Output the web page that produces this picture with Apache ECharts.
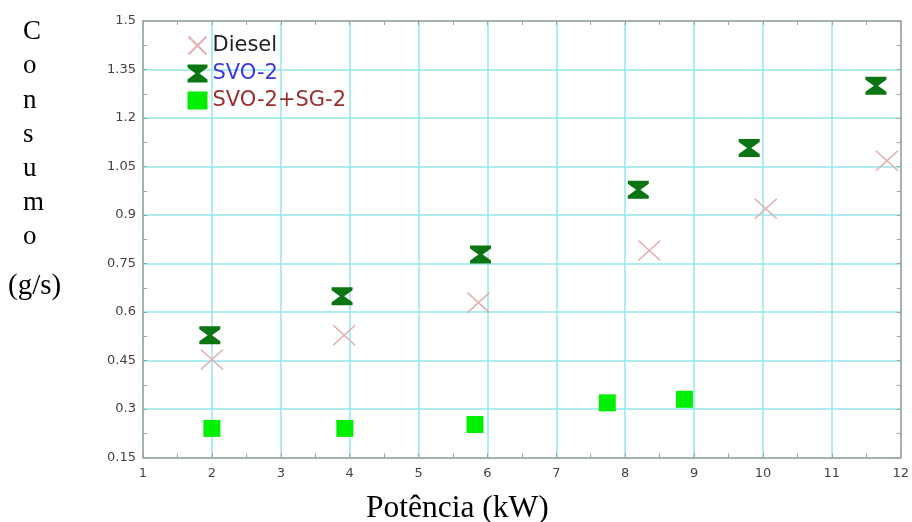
<!DOCTYPE html>
<html>
<head>
<meta charset="utf-8">
<script src="https://cdn.jsdelivr.net/npm/echarts@6/dist/echarts.min.js"></script>
<style>
  html, body { margin: 0; padding: 0; background: #fff; }
  #chart { width: 912px; height: 522px; }
</style>
</head>
<body>
<div id="chart"></div>
<script>
// Fuel consumption vs. power for three fuels
const seriesNames = ['Diesel', 'SVO-2', 'SVO-2+SG-2'];

const dieselPower = [2.0, 3.92, 5.87, 8.35, 10.04, 11.80];
const dieselCons  = [0.453, 0.528, 0.629, 0.79, 0.919, 1.068];

const svoPower = [1.97, 3.89, 5.9, 8.19, 9.80, 11.64];
const svoCons  = [0.528, 0.649, 0.778, 0.978, 1.107, 1.30];

const blendPower = [2.0, 3.93, 5.82, 7.74, 8.86];
const blendCons  = [0.24, 0.24, 0.252, 0.319, 0.33];

const xTicks = { min: 1, max: 12, step: 1 };
const yTicks = { min: 0.15, max: 1.5, step: 0.15 };

const pairs = (xs, ys) => xs.map((x, i) => [x, ys[i]]);

const hourglass = 'path://M0,0 L20,0 L20,3 L12,9 L20,15 L20,18 L0,18 L0,15 L8,9 L0,3 Z';
const cross = 'path://M0,0 L20,20 M20,0 L0,20';

const gridColor = '#94e6ea';
const boxColor = '#a0a0a0';
const tickFont = { color: '#444', fontFamily: 'DejaVu Sans', fontSize: 13 };

const chart = echarts.init(document.getElementById('chart'), null, { renderer: 'canvas' });

const minor = { show: true, splitNumber: 2, length: 4, lineStyle: { color: boxColor, width: 1 } };

chart.setOption({
  backgroundColor: '#fff',
  animation: false,
  grid: { left: 143, right: 5.5, top: 21, bottom: 64.5 },
  legend: {
    orient: 'vertical',
    left: 181,
    top: 29,
    itemGap: 6,
    itemWidth: 20,
    itemHeight: 18,
    textStyle: { fontFamily: 'DejaVu Sans', fontSize: 21, lineHeight: 21 },
    data: [
      { name: seriesNames[0], textStyle: { color: '#222' } },
      { name: seriesNames[1], textStyle: { color: '#3a3ae0' } },
      { name: seriesNames[2], textStyle: { color: '#9a2e2e' } }
    ]
  },
  xAxis: [{
    type: 'value', min: xTicks.min, max: xTicks.max, interval: xTicks.step,
    axisLine: { show: true, onZero: false, lineStyle: { color: boxColor, width: 1.5 } },
    axisTick: { show: true, inside: true, length: 4, lineStyle: { color: boxColor } },
    minorTick: minor,
    splitLine: { show: true, lineStyle: { color: gridColor, width: 1.5 } },
    axisLabel: Object.assign({ margin: 10 }, tickFont)
  }, {
    type: 'value', position: 'top', min: xTicks.min, max: xTicks.max, interval: xTicks.step,
    axisLine: { show: true, onZero: false, lineStyle: { color: boxColor, width: 1.5 } },
    axisTick: { show: true, inside: true, length: 4, lineStyle: { color: boxColor } },
    minorTick: minor,
    splitLine: { show: false },
    axisLabel: { show: false }
  }],
  yAxis: [{
    type: 'value', min: yTicks.min, max: yTicks.max, interval: yTicks.step,
    axisLine: { show: true, onZero: false, lineStyle: { color: boxColor, width: 1.5 } },
    axisTick: { show: true, inside: true, length: 4, lineStyle: { color: boxColor } },
    minorTick: minor,
    splitLine: { show: true, lineStyle: { color: gridColor, width: 1.5 } },
    axisLabel: Object.assign({ margin: 7, formatter: v => String(+v.toFixed(2)) }, tickFont)
  }, {
    type: 'value', position: 'right', min: yTicks.min, max: yTicks.max, interval: yTicks.step,
    axisLine: { show: true, onZero: false, lineStyle: { color: boxColor, width: 1.5 } },
    axisTick: { show: true, inside: true, length: 4, lineStyle: { color: boxColor } },
    minorTick: minor,
    splitLine: { show: false },
    axisLabel: { show: false }
  }],
  series: [
    {
      name: seriesNames[0], type: 'scatter',
      symbol: cross, symbolSize: [22, 20],
      itemStyle: { color: 'none', borderColor: '#e2b0b0', borderWidth: 1.5, opacity: 1 },
      data: pairs(dieselPower, dieselCons), z: 3
    },
    {
      name: seriesNames[1], type: 'scatter',
      symbol: hourglass, symbolSize: [21, 18],
      itemStyle: { color: '#0a7512', opacity: 1 },
      data: pairs(svoPower, svoCons), z: 4
    },
    {
      name: seriesNames[2], type: 'scatter',
      symbol: 'rect', symbolSize: 17,
      itemStyle: { color: '#00ee00', opacity: 1 },
      data: pairs(blendPower, blendCons), z: 4
    }
  ],
  graphic: [
    {
      type: 'text', left: 23, top: 15,
      style: {
        text: 'C\no\nn\ns\nu\nm\no', fontFamily: 'Liberation Serif', fontSize: 27,
        lineHeight: 34.2, fill: '#000', align: 'center', width: 24
      }
    },
    {
      type: 'text', left: 8, top: 272,
      style: { text: '(g/s)', fontFamily: 'Liberation Serif', fontSize: 29, fill: '#000' }
    },
    {
      type: 'text', left: 366, top: 493,
      style: { text: 'Potência (kW)', fontFamily: 'Liberation Serif', fontSize: 31.5, fill: '#000' }
    }
  ]
});
</script>
</body>
</html>
